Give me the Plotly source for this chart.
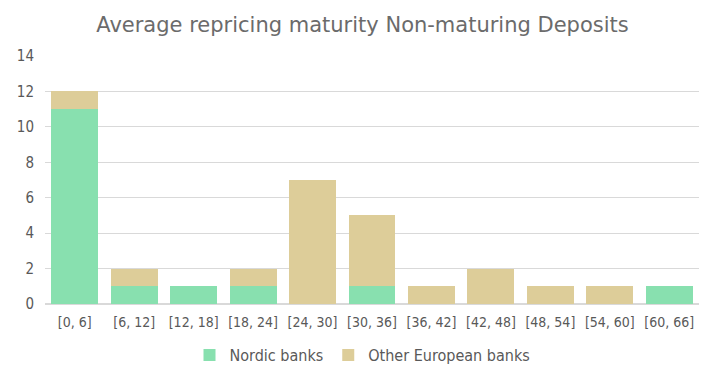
import plotly.graph_objects as go

categories = ["[0, 6]", "[6, 12]", "[12, 18]", "[18, 24]", "[24, 30]", "[30, 36]",
              "[36, 42]", "[42, 48]", "[48, 54]", "[54, 60]", "[60, 66]"]
nordic = [11, 1, 1, 1, 0, 1, 0, 0, 0, 0, 1]
other_european = [1, 1, 0, 1, 7, 4, 1, 2, 1, 1, 0]

font_family = "DejaVu Sans Condensed, DejaVu Sans, sans-serif"
fig = go.Figure()
fig.add_trace(go.Bar(x=categories, y=nordic, name="Nordic banks", marker_color="#88E0AF",
                     marker_line_width=0))
fig.add_trace(go.Bar(x=categories, y=other_european, name="Other European banks",
                     marker_color="#DDCD99", marker_line_width=0))

fig.update_layout(
    barmode="stack",
    bargap=0.21,
    width=709, height=372,
    margin=dict(l=37, r=18, t=48, b=76),
    paper_bgcolor="white", plot_bgcolor="white",
    font=dict(family=font_family, color="#595959", size=13),
    title=dict(text="Average repricing maturity Non-maturing Deposits", x=0.5, xanchor="center",
               y=0.955, yanchor="middle",
               font=dict(size=21, color="#6b6b6b", family="DejaVu Sans, sans-serif")),
    legend=dict(orientation="h", x=0.5, xanchor="center", xref="container",
                y=0.067, yanchor="middle", yref="container",
                font=dict(size=16, color="#595959"), traceorder="normal", itemwidth=30),
    yaxis=dict(range=[0, 14], dtick=2, gridcolor="#d9d9d9", gridwidth=1, zeroline=True,
               zerolinecolor="#d9d9d9", showline=False, ticks="", ticklabelstandoff=10,
               automargin=False, tickfont=dict(size=15, color="#595959")),
    xaxis=dict(showline=False, ticks="", ticklabelstandoff=8, automargin=False,
               tickfont=dict(size=14, color="#595959"), tickangle=0),
)
fig.write_html("out.html")
